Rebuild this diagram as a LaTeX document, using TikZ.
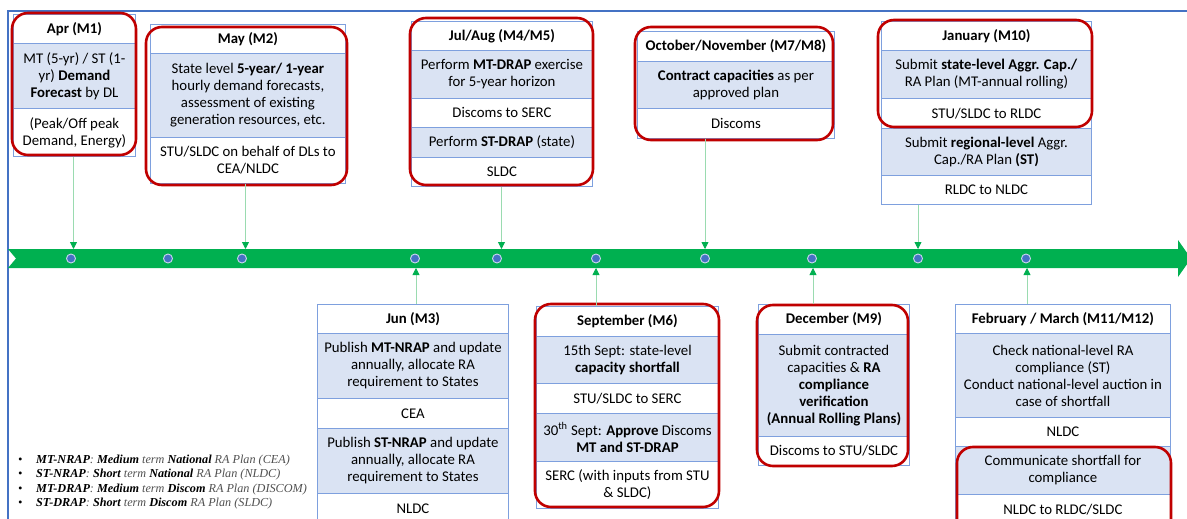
\documentclass[tikz,border=0pt]{standalone}
\usepackage{fontspec}
\setmainfont{Carlito}
\newfontfamily\legfont{Liberation Serif}
\usetikzlibrary{arrows.meta}
\definecolor{boxblue}{HTML}{7EA0DE}
\definecolor{rowblue}{HTML}{DAE3F3}
\definecolor{redc}{HTML}{C00000}
\definecolor{tlgreen}{HTML}{00B050}
\definecolor{linegreen}{HTML}{9ADBB0}
\definecolor{dotblue}{HTML}{4472C4}
\definecolor{dotrim}{HTML}{C9D6EE}
\definecolor{frameblue}{HTML}{4472C4}
\definecolor{leggray}{HTML}{505050}
\newcommand{\cellfont}{\fontsize{14.8}{17}\selectfont}
\newcommand{\mkrow}[7]{\node[cell,#6,minimum width=#4pt,minimum height=#5pt] (#1) at (#2,#3) {#7};}
\tikzset{
  cell/.style={draw=boxblue, line width=0.9pt, inner sep=1pt, align=center, anchor=north west, font=\cellfont, text=black},
  hdr/.style={fill=white, font=\cellfont\bfseries},
  bluerow/.style={fill=rowblue},
  whiterow/.style={fill=white},
  redbox/.style={draw=redc, line width=2.6pt, rounded corners=16pt},
  conn/.style={draw=linegreen, line width=0.8pt, -{Triangle[length=7pt,width=7pt,color=tlgreen]}},
  tdot/.style={circle, fill=dotblue, draw=dotrim, line width=0.9pt, minimum size=9pt, inner sep=0pt},
  legline/.style={anchor=base west, inner sep=0pt, font=\legfont\itshape\fontsize{12.2}{14}\selectfont, text=leggray}
}
\newcommand{\lb}[1]{\textcolor{black}{\bfseries #1}}
\begin{document}
\begin{tikzpicture}[x=1pt,y=-1pt]
\useasboundingbox (0,0) rectangle (1187,519);
\fill[white] (0,0) rectangle (1187,519);
% frame
\draw[frameblue, line width=1.4pt] (8,519) -- (8,11) -- (1187,11);
% timeline band
\fill[tlgreen] (8,249) -- (1178,249) -- (1178,240) -- (1191,258.5) -- (1178,277) -- (1178,268) -- (8,268) -- (16,258.5) -- cycle;
\foreach \x [count=\i] in {71,168,242,415,497,596,705,812,918,1026}
  \node[tdot] (d\i) at (\x,258.5) {};
% timeline targets
\coordinate (tApr) at (73.5,249);
\coordinate (tMay) at (245.5,249);
\coordinate (tJul) at (501.5,249);
\coordinate (tOct) at (705,249);
\coordinate (tJan) at (918,249);
\coordinate (tJun) at (416,268);
\coordinate (tSep) at (596,268);
\coordinate (tDec) at (813,268);
\coordinate (tFeb) at (1027,268);

% Apr
\mkrow{aprH}{13}{14}{122}{29}{hdr}{Apr (M1)}
\mkrow{aprB}{13}{43}{122}{65}{bluerow}{MT (5-yr) / ST (1-\\yr) \textbf{Demand}\\\textbf{Forecast} by DL}
\mkrow{aprC}{13}{108}{122}{48}{whiterow}{(Peak/Off peak\\Demand, Energy)}
\draw[redbox] (12,13) rectangle (136,155);

% May
\mkrow{mayH}{150}{24}{195}{29}{hdr}{May (M2)}
\mkrow{mayB}{150}{53}{195}{84}{bluerow}{State level \textbf{5-year/ 1-year}\\hourly demand forecasts,\\assessment of existing\\generation resources, etc.}
\mkrow{mayC}{150}{137}{195}{46}{whiterow}{STU/SLDC on behalf of DLs to\\CEA/NLDC}
\draw[redbox] (146,27) rectangle (347,185);

% Jul/Aug
\mkrow{julH}{411}{21}{181}{29}{hdr}{Jul/Aug (M4/M5)}
\mkrow{julB}{411}{50}{181}{48}{bluerow}{Perform \textbf{MT-DRAP} exercise\\for 5-year horizon}
\mkrow{julC}{411}{98}{181}{29}{whiterow}{Discoms to SERC}
\mkrow{julD}{411}{127}{181}{30}{bluerow}{Perform \textbf{ST-DRAP} (state)}
\mkrow{julE}{411}{157}{181}{29}{whiterow}{SLDC}
\draw[redbox] (410,18) rectangle (593,185);

% Oct/Nov
\mkrow{octH}{637}{31}{197}{30}{hdr}{October/November (M7/M8)}
\mkrow{octB}{637}{61}{197}{47}{bluerow}{\textbf{Contract capacities} as per\\approved plan}
\mkrow{octC}{637}{108}{197}{30}{whiterow}{Discoms}
\draw[redbox] (635,27) rectangle (833,140);

% January
\mkrow{janH}{881}{21}{210}{29}{hdr}{January (M10)}
\mkrow{janB}{881}{50}{210}{48}{bluerow}{Submit \textbf{state-level Aggr. Cap./}\\RA Plan (MT-annual rolling)}
\mkrow{janC}{881}{98}{210}{30}{whiterow}{STU/SLDC to RLDC}
\mkrow{janD}{881}{128}{210}{47}{bluerow}{Submit \textbf{regional-level} Aggr.\\Cap./RA Plan \textbf{(ST)}}
\mkrow{janE}{881}{175}{210}{29}{whiterow}{RLDC to NLDC}
\draw[redbox] (878,20) rectangle (1092,127);

% Jun
\mkrow{junH}{317}{304}{191}{29}{hdr}{Jun (M3)}
\mkrow{junB}{317}{333}{191}{65}{bluerow}{Publish \textbf{MT-NRAP} and update\\annually, allocate RA\\requirement to States}
\mkrow{junC}{317}{398}{191}{30}{whiterow}{CEA}
\mkrow{junD}{317}{428}{191}{65}{bluerow}{Publish \textbf{ST-NRAP} and update\\annually, allocate RA\\requirement to States}
\mkrow{junE}{317}{493}{191}{30}{whiterow}{NLDC}

% September
\mkrow{sepH}{536}{306}{182}{30}{hdr}{September (M6)}
\mkrow{sepB}{536}{336}{182}{47}{bluerow}{15th Sept: state-level\\\textbf{capacity shortfall}}
\mkrow{sepC}{536}{383}{182}{30}{whiterow}{STU/SLDC to SERC}
\mkrow{sepD}{536}{413}{182}{48}{bluerow}{30\textsuperscript{th} Sept: \textbf{Approve} Discoms\\\textbf{MT and ST-DRAP}}
\mkrow{sepE}{536}{461}{182}{47}{whiterow}{SERC (with inputs from STU\\\& SLDC)}
\draw[redbox] (535,304) rectangle (719,507);

% December
\mkrow{decH}{758}{304}{151}{30}{hdr}{December (M9)}
\mkrow{decB}{758}{334}{151}{102}{bluerow}{Submit contracted\\capacities \& \textbf{RA}\\\textbf{compliance}\\\textbf{verification}\\\textbf{(Annual Rolling Plans)}}
\mkrow{decC}{758}{436}{151}{29}{whiterow}{Discoms to STU/SLDC}
\draw[redbox] (757,305) rectangle (908,466);

% Feb/Mar
\mkrow{febH}{955}{304}{215}{29}{hdr}{February / March (M11/M12)}
\mkrow{febB}{955}{333}{215}{84}{bluerow}{Check national-level RA\\compliance (ST)\\Conduct national-level auction in\\case of shortfall}
\mkrow{febC}{955}{417}{215}{29}{whiterow}{NLDC}
\mkrow{febD}{955}{446}{215}{48}{bluerow}{Communicate shortfall for\\compliance}
\mkrow{febE}{955}{494}{215}{30}{whiterow}{NLDC to RLDC/SLDC}
\draw[redbox] (957,447) rectangle (1171,540);

% connectors
\draw[conn] (aprC.south -| tApr) -- (tApr);
\draw[conn] (mayC.south -| tMay) -- (tMay);
\draw[conn] (julE.south -| tJul) -- (tJul);
\draw[conn] (octC.south -| tOct) -- (tOct);
\draw[conn] (janE.south -| tJan) -- (tJan);
\draw[conn] (junH.north -| tJun) -- (tJun);
\draw[conn] (sepH.north -| tSep) -- (tSep);
\draw[conn] (decH.north -| tDec) -- (tDec);
\draw[conn] (febH.north -| tFeb) -- (tFeb);

% legend
\node[legline] (leg1) at (18,463) {\makebox[18pt][l]{\textcolor{black}{•}}\lb{MT-NRAP}: \lb{Medium} term \lb{National} RA Plan (CEA)};
\node[legline] (leg2) at (18,477.5) {\makebox[18pt][l]{\textcolor{black}{•}}\lb{ST-NRAP}: \lb{Short} term \lb{National} RA Plan (NLDC)};
\node[legline] (leg3) at (18,492) {\makebox[18pt][l]{\textcolor{black}{•}}\lb{MT-DRAP}: \lb{Medium} term \lb{Discom} RA Plan (DISCOM)};
\node[legline] (leg4) at (18,506.5) {\makebox[18pt][l]{\textcolor{black}{•}}\lb{ST-DRAP}: \lb{Short} term \lb{Discom} RA Plan (SLDC)};
\end{tikzpicture}
\end{document}
